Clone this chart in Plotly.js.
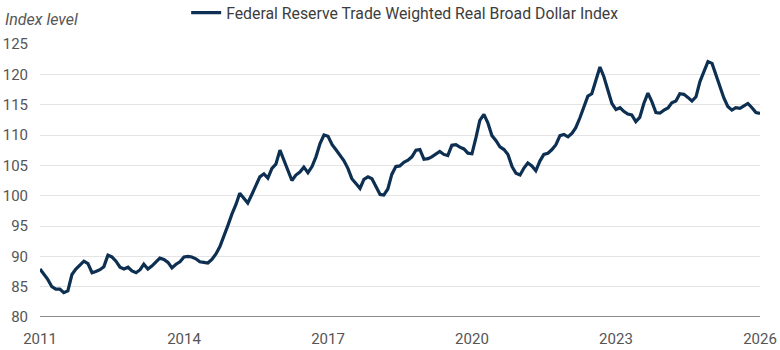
<!DOCTYPE html>
<html>
<head>
<meta charset="utf-8">
<script src="https://cdn.plot.ly/plotly-3.0.1.min.js"></script>
<style>
  html, body { margin: 0; padding: 0; background: #ffffff; }
  #chart { width: 780px; height: 350px; }
</style>
</head>
<body>
<div id="chart"></div>
<script>
// Monthly index values, January 2011 through January 2026
const startYear = 2011;
const values2011 = [87.9, 87.0, 86.2, 85.0, 84.6, 84.6, 84.0, 84.3, 87.0, 87.9, 88.6, 89.2];
const values2012 = [88.8, 87.3, 87.5, 87.8, 88.3, 90.2, 89.9, 89.2, 88.2, 87.9, 88.2, 87.6];
const values2013 = [87.3, 87.8, 88.7, 87.9, 88.4, 89.0, 89.7, 89.5, 89.0, 88.1, 88.7, 89.1];
const values2014 = [89.9, 90.0, 89.9, 89.6, 89.1, 89.0, 88.9, 89.5, 90.4, 91.6, 93.3, 95.1];
const values2015 = [97.0, 98.6, 100.4, 99.5, 98.8, 100.2, 101.7, 103.1, 103.6, 102.9, 104.5, 105.2];
const values2016 = [107.5, 105.9, 104.2, 102.5, 103.4, 103.9, 104.7, 103.8, 104.8, 106.4, 108.6, 110.0];
const values2017 = [109.8, 108.4, 107.6, 106.7, 105.8, 104.5, 102.8, 102.0, 101.2, 102.7, 103.1, 102.8];
const values2018 = [101.4, 100.2, 100.1, 101.1, 103.5, 104.8, 104.9, 105.5, 105.85, 106.4, 107.5, 107.6];
const values2019 = [106.0, 106.1, 106.4, 106.8, 107.3, 106.8, 106.6, 108.3, 108.4, 108.0, 107.7, 107.0];
const values2020 = [106.9, 109.6, 112.4, 113.4, 112.0, 109.9, 109.1, 108.05, 107.6, 106.8, 104.8, 103.7];
const values2021 = [103.4, 104.6, 105.4, 104.9, 104.1, 105.7, 106.8, 107.0, 107.6, 108.4, 109.9, 110.1];
const values2022 = [109.7, 110.3, 111.2, 112.8, 114.7, 116.4, 116.8, 118.8, 121.2, 119.6, 117.5, 115.2];
const values2023 = [114.2, 114.5, 113.9, 113.45, 113.3, 112.2, 112.9, 115.2, 116.9, 115.5, 113.7, 113.6];
const values2024 = [114.1, 114.45, 115.3, 115.6, 116.8, 116.7, 116.2, 115.6, 116.3, 118.8, 120.5, 122.1];
const values2025 = [121.8, 119.7, 117.9, 116.1, 114.7, 114.1, 114.5, 114.4, 114.8, 115.2, 114.5, 113.7];
const values2026 = [113.55];

const indexValues = [].concat(values2011, values2012, values2013, values2014, values2015,
  values2016, values2017, values2018, values2019, values2020, values2021, values2022,
  values2023, values2024, values2025, values2026);

// Month dates matching the values
const monthDates = indexValues.map((_, i) => {
  const y = startYear + Math.floor(i / 12);
  const m = (i % 12) + 1;
  return y + '-' + (m < 10 ? '0' + m : m) + '-01';
});

const xTickYears = ['2011', '2014', '2017', '2020', '2023', '2026'];
const yTickValues = [80, 85, 90, 95, 100, 105, 110, 115, 120, 125];
const seriesName = 'Federal Reserve Trade Weighted Real Broad Dollar Index';
const yAxisLabel = 'Index level';

const trace = {
  x: monthDates,
  y: indexValues,
  type: 'scatter',
  mode: 'lines',
  name: seriesName,
  line: { color: '#0c2f52', width: 3.2 },
  hoverinfo: 'skip'
};

const layout = {
  width: 780,
  height: 350,
  margin: { l: 40, r: 20, t: 44, b: 33, autoexpand: false },
  paper_bgcolor: '#ffffff',
  plot_bgcolor: '#ffffff',
  font: { family: 'Roboto, "Open Sans", sans-serif', size: 15, color: '#555555' },
  showlegend: true,
  legend: {
    orientation: 'h',
    x: 0.203,
    xanchor: 'left',
    y: 1.114,
    yanchor: 'middle',
    font: { size: 15.8, color: '#3d3d3d' },
    bgcolor: 'rgba(0,0,0,0)'
  },
  xaxis: {
    type: 'date',
    range: ['2011-01-01', '2026-01-01'],
    tickmode: 'array',
    tickvals: xTickYears.map(y => y + '-01-01'),
    ticktext: xTickYears,
    showgrid: false,
    zeroline: false,
    showline: false,
    ticks: '',
    ticklabelstandoff: 11,
    tickfont: { size: 15, color: '#555555' }
  },
  yaxis: {
    range: [80, 125],
    tickmode: 'array',
    tickvals: yTickValues,
    ticktext: yTickValues.map(String),
    showgrid: true,
    gridcolor: '#e4e4e4',
    gridwidth: 1,
    zeroline: false,
    showline: false,
    ticks: '',
    ticklabelstandoff: 11,
    tickfont: { size: 15, color: '#555555' }
  },
  shapes: [{
    type: 'line', xref: 'paper', yref: 'y',
    x0: 0, x1: 1, y0: 80, y1: 80,
    line: { color: '#8a8a8a', width: 2 },
    layer: 'below'
  }],
  annotations: [{
    text: '<i>' + yAxisLabel + '</i>',
    xref: 'paper', yref: 'paper',
    x: -0.052, y: 1.088,
    xanchor: 'left', yanchor: 'middle',
    showarrow: false,
    font: { size: 16, color: '#555555' }
  }]
};

Plotly.newPlot('chart', [trace], layout, { displayModeBar: false, staticPlot: true });
</script>
</body>
</html>
